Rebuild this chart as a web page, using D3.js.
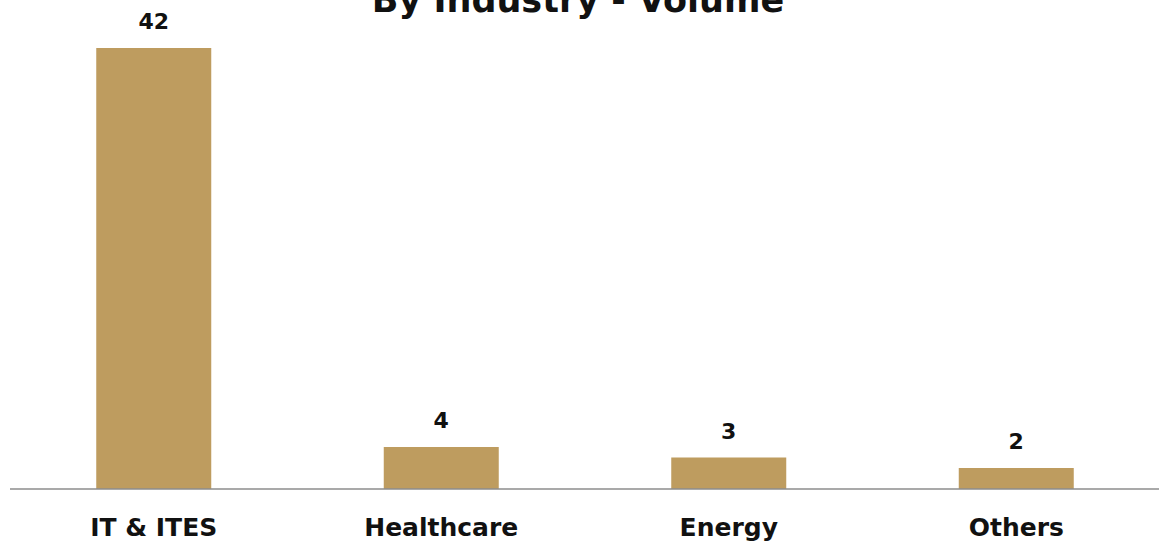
<!DOCTYPE html>
<html><head><meta charset="utf-8">
<script src="https://cdn.jsdelivr.net/npm/d3@7"></script>
<style>html,body{margin:0;padding:0;background:#fff;}svg{display:block;}</style>
</head><body>
<svg id="chart" width="1159" height="546"></svg>
<script>
const categories = ["IT & ITES", "Healthcare", "Energy", "Others"];
const values = [42, 4, 3, 2];
const title = "By Industry - Volume";

const svg = d3.select("#chart");
const baseY = 489;
const x = d3.scaleBand().domain(categories).range([10, 1160]).paddingInner(0.6).paddingOuter(0.3);
const y = d3.scaleLinear().domain([0, 42]).range([baseY, 48]);

const font = "'DejaVu Sans', sans-serif";

svg.append("text").attr("x", 578).attr("y", 12).attr("text-anchor", "middle")
  .attr("font-family", font).attr("font-weight", "bold").attr("font-size", 35).attr("fill", "#111")
  .text(title);

svg.selectAll("rect.bar").data(values).join("rect").attr("class", "bar")
  .attr("x", (d, i) => x(categories[i])).attr("width", x.bandwidth())
  .attr("y", d => y(d)).attr("height", d => baseY - y(d))
  .attr("fill", "#BE9C5F");

svg.selectAll("text.val").data(values).join("text").attr("class", "val")
  .attr("x", (d, i) => x(categories[i]) + x.bandwidth() / 2)
  .attr("y", d => y(d) - 19).attr("text-anchor", "middle")
  .attr("font-family", font).attr("font-weight", "bold").attr("font-size", 22).attr("fill", "#111")
  .text(d => d);

const axis = d3.axisBottom(x).tickSize(0).tickPadding(0);
const g = svg.append("g").attr("transform", `translate(0,${baseY})`).call(axis);
g.select(".domain").attr("stroke", "#8c8c8c").attr("stroke-width", 1.5).attr("d", `M10,0H1159`);
g.selectAll(".tick text").attr("y", 47).attr("dy", 0)
  .attr("font-family", font).attr("font-weight", "bold").attr("font-size", 25).attr("fill", "#111");
</script>
</body></html>
